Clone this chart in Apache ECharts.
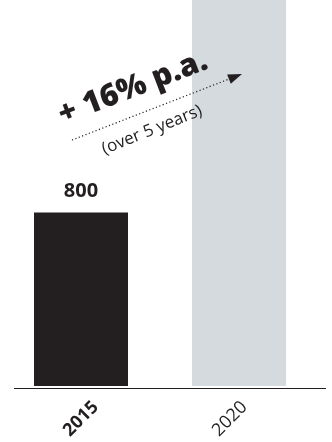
<!DOCTYPE html>
<html>
<head>
<meta charset="utf-8">
<style>
  html, body { margin: 0; padding: 0; background: #fff; }
  #main { width: 332px; height: 442px; }
</style>
<script src="https://cdn.jsdelivr.net/npm/echarts@6/dist/echarts.min.js"></script>
</head>
<body>
<div id="main"></div>
<script>
var dom = document.getElementById("main");
var myChart = echarts.init(dom);

// data
var years = ["2015", "2020"];
var values = [800, 1900];          // 2020 bar runs off the top of the picture
var barColors = ["#231f20", "#d5dadf"];
var valueLabels = ["800", ""];
var growthText = "+ 16% p.a.";
var periodText = "(over 5 years)";

var ink = "#231f20";
var font = "'Open Sans'";

var option = {
  animation: false,
  grid: { left: 2, right: 14, top: 0, bottom: 54 },
  xAxis: {
    type: "category",
    data: years,
    axisLine: { show: false },
    axisTick: { show: false },
    axisLabel: {
      rotate: 45,
      align: "center",
      verticalAlign: "middle",
      margin: 33,
      formatter: function (v, i) {
        return i === 0 ? "{b|" + v + "}" : "{r|" + v + "}";
      },
      rich: {
        b: { fontFamily: font, fontWeight: "bold", fontSize: 18, color: ink },
        r: { fontFamily: font, fontSize: 18, color: ink, padding: [0, 13, 13, 0] }
      }
    }
  },
  yAxis: {
    type: "value",
    min: 0,
    max: 1780,
    show: false,
    splitLine: { show: false }
  },
  series: [
    {
      type: "bar",
      barWidth: 94,
      clip: true,
      data: values.map(function (v, i) {
        return { value: v, itemStyle: { color: barColors[i] } };
      }),
      label: {
        show: true,
        position: "top",
        distance: 11,
        fontFamily: font,
        fontWeight: "bold",
        fontSize: 20,
        color: ink,
        formatter: function (p) { return valueLabels[p.dataIndex]; }
      }
    }
  ],
  graphic: [
    // baseline
    { type: "line", z: 100, shape: { x1: 14, y1: 388.5, x2: 326, y2: 388.5 }, style: { stroke: ink, lineWidth: 1 } },
    // dotted growth arrow
    { type: "line", z: 100, shape: { x1: 72, y1: 140, x2: 230, y2: 78.7 }, style: { stroke: ink, lineWidth: 1.2, lineDash: [1.2, 2.4] } },
    { type: "polygon", z: 100, shape: { points: [[242, 74], [230.8, 83.7], [227.1, 74.4]] }, style: { fill: ink } },
    {
      type: "text", z: 100, x: 133, y: 88, rotation: 0.367,
      style: { text: growthText, font: "800 31px " + font, fill: ink, align: "center", verticalAlign: "middle" }
    },
    {
      type: "text", z: 100, x: 152, y: 130, rotation: 0.384,
      style: { text: periodText, font: "17px " + font, fill: ink, align: "center", verticalAlign: "middle" }
    }
  ]
};

myChart.setOption(option);
</script>
</body>
</html>
